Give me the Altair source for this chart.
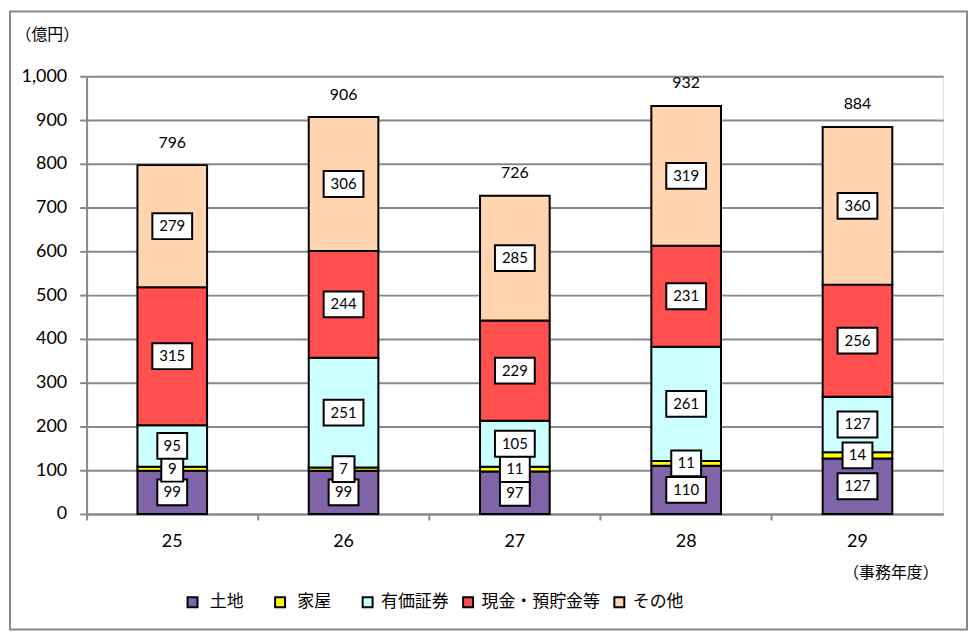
import altair as alt
import pandas as pd

years = ["25", "26", "27", "28", "29"]
series = ["\u200b\u00a0土地\u2002\u2002\u200b", "\u200b\u00a0家屋\u2002\u2002\u200b",
          "有価証券", "現金・預貯金等", "その他"]
land = [99, 99, 97, 110, 127]
house = [9, 7, 11, 11, 14]
securities = [95, 251, 105, 261, 127]
cash = [315, 244, 229, 231, 256]
other = [279, 306, 285, 319, 360]
totals = [796, 906, 726, 932, 884]
colors = ["#8064A8", "#FFFF00", "#CCFFFF", "#FF4F4F", "#FFD4AE"]

vals = [land, house, securities, cash, other]
rows = []
for i, y in enumerate(years):
    cum = 0
    for k, s in enumerate(series):
        v = vals[k][i]
        rows.append({"year": y, "series": s, "idx": k, "value": v,
                     "mid": cum + v / 2, "digits": str(len(str(v)))})
        cum += v
df = pd.DataFrame(rows)
tot = pd.DataFrame({"year": years, "total": totals})

W, H = 861, 440
NUM_FONT = "Lato"
JP_FONT = "Noto Sans CJK JP"

xenc = alt.X("year:N", sort=years,
             scale=alt.Scale(paddingInner=0, paddingOuter=0),
             axis=alt.Axis(title="（事務年度）", titleAngle=0, titleX=808, titleY=59,
                           titleAlign="center", titleBaseline="middle",
                           titleFont=JP_FONT, titleFontSize=16, titleFontWeight="normal",
                           labelFont=NUM_FONT, labelFontSize=18, labelAngle=0,
                           labelColor="black", labelPadding=13,
                           domainColor="#888888", domainWidth=2,
                           tickColor="#888888", tickWidth=2, tickSize=6,
                           bandPosition=0, grid=False))

yscale = alt.Scale(domain=[0, 1000], nice=False)

bars = alt.Chart(df).mark_bar(size=70, stroke="black", strokeWidth=2).encode(
    x=xenc,
    y=alt.Y("value:Q", stack="zero", scale=yscale,
            axis=alt.Axis(title="（億円）", titleAngle=0, titleX=-40, titleY=-42,
                          titleAlign="center", titleBaseline="middle",
                          titleFont=JP_FONT, titleFontSize=16, titleFontWeight="normal",
                          values=list(range(0, 1001, 100)), format=",.0f",
                          labelFont=NUM_FONT, labelFontSize=18, labelColor="black",
                          labelPadding=13,
                          domainColor="#888888", domainWidth=2,
                          tickColor="#888888", tickWidth=2, tickSize=7,
                          grid=True, gridColor="#888888", gridWidth=2)),
    color=alt.Color("series:N", sort=series,
                    scale=alt.Scale(domain=series, range=colors),
                    legend=alt.Legend(
                        title=None, orient="none", direction="horizontal", columns=5,
                        legendX=98, legendY=520, padding=0,
                        symbolType="square", symbolSize=100,
                        symbolStrokeColor="black", symbolStrokeWidth=2,
                        labelFont=JP_FONT, labelFontSize=17, labelColor="black",
                        labelOffset=5, columnPadding=10)),
    order=alt.Order("idx:Q"),
)

box_paths = [
    "M-0.55,-0.65L0.55,-0.65L0.55,0.65L-0.55,0.65Z",
    "M-0.75,-0.65L0.75,-0.65L0.75,0.65L-0.75,0.65Z",
    "M-1,-0.65L1,-0.65L1,0.65L-1,0.65Z",
]

boxes = alt.Chart(df).mark_point(filled=True, fill="white", stroke="black",
                                 strokeWidth=2, opacity=1, size=1600).encode(
    x=alt.X("year:N", sort=years),
    y=alt.Y("mid:Q", scale=yscale),
    shape=alt.Shape("digits:N", scale=alt.Scale(domain=["1", "2", "3"], range=box_paths),
                    legend=None),
)

labels = alt.Chart(df).mark_text(font=NUM_FONT, fontSize=15, color="black",
                                 baseline="middle").encode(
    x=alt.X("year:N", sort=years),
    y=alt.Y("mid:Q", scale=yscale),
    text=alt.Text("value:Q"),
)

total_text = alt.Chart(tot).mark_text(font=NUM_FONT, fontSize=16, color="black",
                                      baseline="middle", dy=-23).encode(
    x=alt.X("year:N", sort=years),
    y=alt.Y("total:Q", scale=yscale),
    text=alt.Text("total:Q"),
)

border = alt.Chart(pd.DataFrame({"a": [0]})).mark_rect(
    fillOpacity=0, stroke="#888888", strokeWidth=2).encode(
    x=alt.value(-77), x2=alt.value(885), y=alt.value(-65), y2=alt.value(556))

chart = alt.layer(bars, boxes, labels, total_text, border).properties(
    width=W, height=H,
    autosize=alt.AutoSizeParams(type="none"),
    padding={"left": 79, "top": 67, "right": 26, "bottom": 118},
).configure_view(stroke=None).configure(background="white")

chart.save("out.html", embed_options={"renderer": "svg", "actions": False})
